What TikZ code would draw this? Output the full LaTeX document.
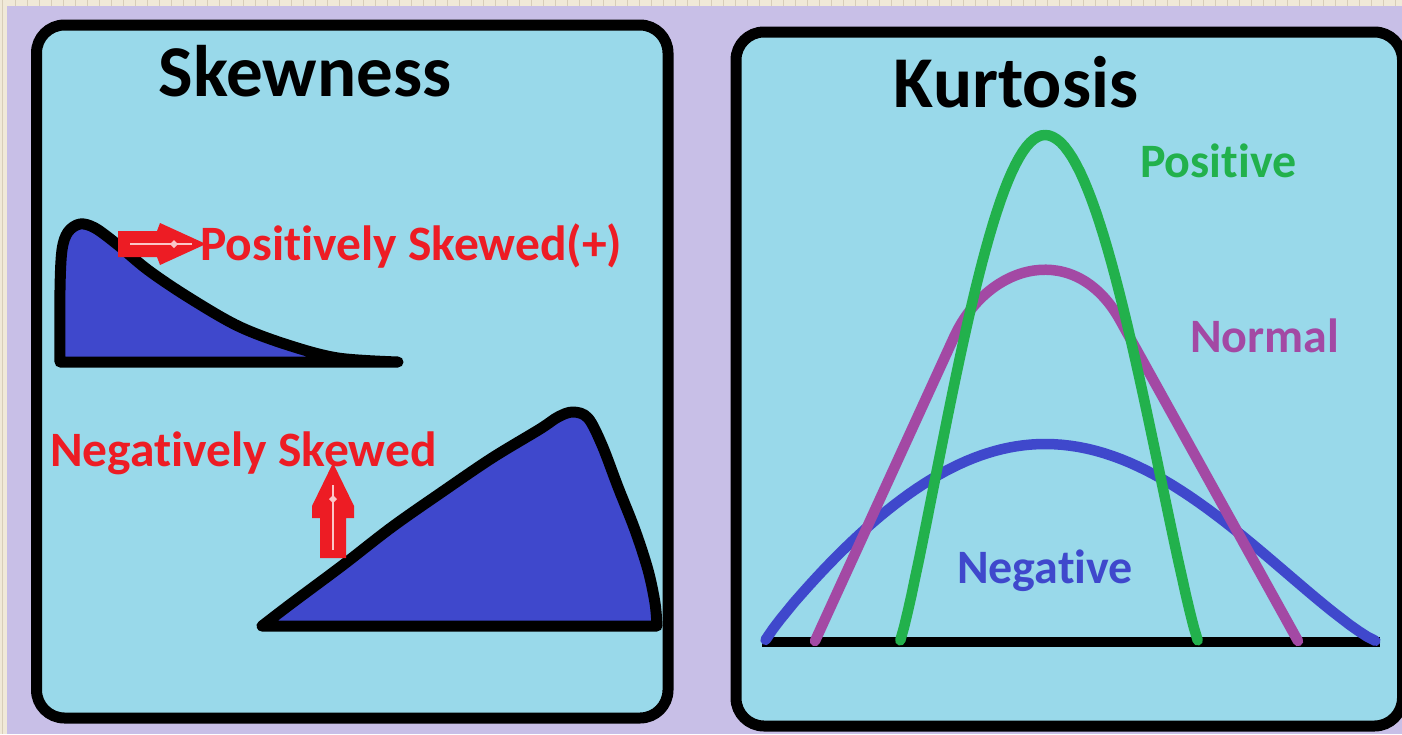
\documentclass[tikz,border=0pt]{standalone}
\usepackage{fontspec}
\setmainfont{Carlito}[RawFeature={-liga;-clig;-calt;-dlig}]
\definecolor{lav}{RGB}{200,191,231}
\definecolor{lblue}{RGB}{153,217,234}
\definecolor{dblue}{RGB}{63,72,204}
\definecolor{pred}{RGB}{237,28,36}
\definecolor{pgreen}{RGB}{34,177,76}
\definecolor{ppurple}{RGB}{163,73,164}
\definecolor{beige}{RGB}{240,233,216}
\definecolor{ticktan}{RGB}{215,205,185}
\newcommand{\nti}{t\kern0pt i}
\begin{document}
\begin{tikzpicture}[x=1pt,y=-1pt,
  panel/.style={draw=black, line width=11pt, fill=lblue, rounded corners=28pt},
  curve/.style={line width=10.5pt, line cap=round, line join=round},
  outline/.style={draw=black, line width=11pt, line join=round, line cap=round},
  title/.style={font=\fontsize{73}{80}\selectfont\bfseries, inner sep=0pt},
  lbl/.style={font=\fontsize{48}{56}\selectfont\bfseries, inner sep=0pt},
  slbl/.style={font=\fontsize{49.5}{56}\selectfont\bfseries, inner sep=0pt},
  rarrow/.style={fill=pred},
  arrowline/.style={draw=white!75!pred, line width=1.5pt}
]
\useasboundingbox (0,0) rectangle (1402,734);
% background
\fill[lav] (0,0) rectangle (1402,734);
\fill[beige] (0,0) rectangle (1402,6);
\fill[beige] (0,0) rectangle (7,734);
\foreach \x in {15,27,...,1400} \draw[ticktan, line width=1pt] (\x,0) -- (\x,6);
\draw[ticktan, line width=1pt] (2.5,0) -- (2.5,734);
% panels
\draw[panel] (36.5,25) rectangle (668,718);
\draw[panel] (736,32) rectangle (1402.5,726);
% titles
\node[title, anchor=base] (skew) at (305,96) {Skewness};
\node[title, anchor=base] (kurt) at (1016,107) {Kurtosis};
% positively skewed shape
\path[outline, fill=dblue] plot[smooth, tension=0.55] coordinates {(60,362) (60,290) (62,250) (68,232) (80,224) (95,228) (118,245) (148,270) (188,297) (238,326) (288,345) (338,358) (398,362)} -- cycle;
% negatively skewed shape
\path[outline, fill=dblue] plot[smooth, tension=0.55] coordinates {(262,626) (292,603) (343,565) (392,527) (442,492) (492,458) (540,429) (558,417) (573,412) (588,418) (602,445) (618,487) (635,530) (648,570) (655,603) (657,626)} -- cycle;
% red arrows
\path[rarrow] (118,231) -- (157,231) -- (160,223) -- (206,244) -- (160,265) -- (157,257) -- (118,257) -- cycle;
\draw[arrowline] (130,244) -- (192,244);
\fill[white!75!pred] (174,240) -- (178,244) -- (174,248) -- (170,244) -- cycle;
\path[rarrow] (333,463) -- (354,506) -- (354,518) -- (346,518) -- (346,558) -- (320,558) -- (320,518) -- (312,518) -- (312,506) -- cycle;
\draw[arrowline] (333,485) -- (333,550);
\fill[white!75!pred] (333,495) -- (337,499) -- (333,503) -- (329,499) -- cycle;
% skewness labels
\node[slbl, text=pred, anchor=base west] (pos) at (200,260) {Posi\nti vely Skewed(+)};
\node[slbl, text=pred, anchor=base west] (neg) at (50,466) {Nega\nti vely Skewed};
% kurtosis
\draw[black, line width=10pt] (762,642) -- (1380,642);
\draw[curve, dblue] plot[domain=-0.998:0, samples=40, variable=\u] ({1045+280*\u}, {641-197*pow(cos(90*\u),0.9)}) -- plot[domain=0:0.998, samples=40, variable=\u] ({1045+331*\u}, {641-197*pow(cos(90*\u),1.2)});
\draw[curve, ppurple] (815,641) -- (955,335) .. controls (990,262) and (1076,241) .. (1120,320) -- (1298,641);
\draw[curve, pgreen] plot[domain=-0.998:0, samples=40, variable=\u] ({1045+145*\u}, {641-506*pow(cos(90*\u),1.15)}) -- plot[domain=0:0.998, samples=40, variable=\u] ({1045+153*\u}, {641-506*pow(cos(90*\u),1.15)});
\node[lbl, text=pgreen, anchor=base west] (kpos) at (1140,177) {Posi\nti ve};
\node[lbl, text=ppurple, anchor=base west] (knorm) at (1190,352) {Normal};
\node[lbl, text=dblue, anchor=base west] (kneg) at (957,583) {Nega\nti ve};
\end{tikzpicture}
\end{document}
